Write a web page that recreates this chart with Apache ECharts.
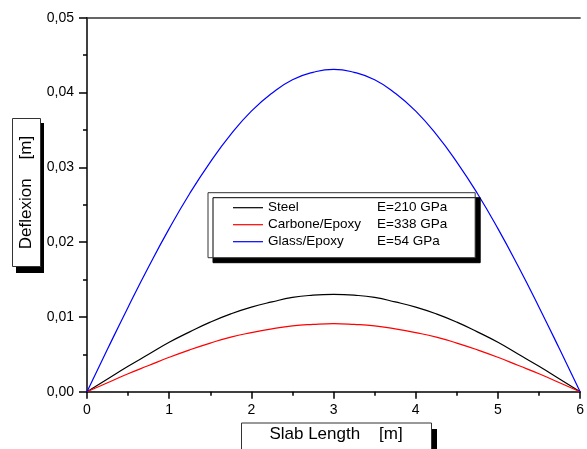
<!DOCTYPE html>
<html><head><meta charset="utf-8">
<script src="https://cdn.jsdelivr.net/npm/echarts@6/dist/echarts.min.js"></script>
<style>html,body{margin:0;padding:0;background:#fff}#c{width:587px;height:449px}</style>
</head><body><div id="c"></div>
<script>
var xs = [0,0.25,0.5,0.75,1,1.25,1.5,1.75,2,2.25,2.5,2.75,3,3.25,3.5,3.75,4,4.25,4.5,4.75,5,5.25,5.5,5.75,6];
var steel = [0,0.0017,0.0034,0.0050,0.0066,0.0080,0.0093,0.0104,0.0113,0.0120,0.0126,0.0129,0.0130,0.0129,0.0126,0.0120,0.0113,0.0104,0.0093,0.0080,0.0066,0.0050,0.0034,0.0017,0];
var carbone = [0,0.0012,0.0024,0.0035,0.0046,0.0056,0.0065,0.0073,0.0079,0.0084,0.0088,0.0090,0.0091,0.0090,0.0088,0.0084,0.0079,0.0073,0.0065,0.0056,0.0046,0.0035,0.0024,0.0012,0];
var glass = [0,0.0057,0.0113,0.0167,0.0218,0.0265,0.0307,0.0344,0.0375,0.0399,0.0417,0.0427,0.0431,0.0427,0.0417,0.0399,0.0375,0.0344,0.0307,0.0265,0.0218,0.0167,0.0113,0.0057,0];
var seriesNames = ['Steel','Carbone/Epoxy','Glass/Epoxy'];
var moduli = ['E=210 GPa','E=338 GPa','E=54 GPa'];
var colors = ['#000000','#ff0000','#0000ff'];
var xTitle = 'Slab Length    [m]';
var yTitle = 'Deflexion    [m]';

var FONT = 'Arial, "Liberation Sans", sans-serif';
function pairs(ys){ return xs.map(function(x,i){ return [x, ys[i]]; }); }
var all = [steel, carbone, glass];
var chart = echarts.init(document.getElementById('c'));
chart.setOption({
  animation:false,
  backgroundColor:'#fff',
  grid:{left:87, right:1, top:17.7, bottom:57.3, containLabel:false},
  xAxis:[{
    type:'value', min:0, max:6, interval:1,
    axisLine:{show:true, lineStyle:{color:'#000', width:1.5}},
    axisTick:{show:true, inside:false, length:7, lineStyle:{color:'#000', width:1.5}},
    minorTick:{show:true, splitNumber:2, length:4, lineStyle:{color:'#000', width:1.5}},
    splitLine:{show:false},
    axisLabel:{margin:11, color:'#000', fontSize:14, fontFamily:FONT}
  },{
    type:'value', position:'top', min:0, max:6,
    axisLine:{show:true, lineStyle:{color:'#333', width:1.5}},
    axisTick:{show:false}, axisLabel:{show:false}, splitLine:{show:false}
  }],
  yAxis:{
    type:'value', min:0, max:0.05, interval:0.01,
    axisLine:{show:true, lineStyle:{color:'#000', width:1.5}},
    axisTick:{show:true, inside:false, length:8, lineStyle:{color:'#000', width:1.5}},
    minorTick:{show:true, splitNumber:2, length:4, lineStyle:{color:'#000', width:1.5}},
    splitLine:{show:false},
    axisLabel:{margin:13, color:'#000', fontSize:14, fontFamily:FONT,
      formatter:function(v){ return v.toFixed(2).replace('.', ','); }}
  },
  legend:{
    left:208, top:192.7, orient:'vertical',
    icon:'path://M0,0L30,0L30,1L0,1Z', symbolKeepAspect:false,
    itemWidth:30, itemHeight:1.2, itemGap:3,
    padding:[8,28,9,25],
    backgroundColor:'#fff', borderColor:'#333', borderWidth:1,
    shadowColor:'#000', shadowOffsetX:5, shadowOffsetY:5, shadowBlur:0,
    data:seriesNames,
    formatter:function(name){ var i = seriesNames.indexOf(name); return '{a|'+name+'}{b|'+moduli[i]+'}'; },
    textStyle:{color:'#000', fontSize:13.5, fontFamily:FONT,
      rich:{a:{width:109, height:16, fontSize:13.5, fontFamily:FONT, color:'#000'}, b:{width:70, height:16, fontSize:13.5, fontFamily:FONT, color:'#000'}}}
  },
  series: seriesNames.map(function(n,i){
    return {name:n, type:'line', data:pairs(all[i]), smooth:true, symbol:'none',
      lineStyle:{color:colors[i], width:1.2}, itemStyle:{color:colors[i]}};
  }),
  graphic:[
    {type:'rect', shape:{x:16, y:123, width:28, height:150}, style:{fill:'#000'}, z:10},
    {type:'rect', shape:{x:12.5, y:118.5, width:28, height:148}, style:{fill:'#fff', stroke:'#333', lineWidth:1}, z:11},
    {type:'text', x:26.5, y:192.5, rotation:Math.PI/2, z:12,
      style:{text:yTitle, fill:'#000', font:'17px '+FONT, textAlign:'center', textVerticalAlign:'middle'}},
    {type:'rect', shape:{x:246, y:429, width:191, height:30}, style:{fill:'#000'}, z:10},
    {type:'rect', shape:{x:241.5, y:423, width:190, height:30}, style:{fill:'#fff', stroke:'#333', lineWidth:1}, z:11},
    {type:'text', x:336, y:434.5, z:12,
      style:{text:xTitle, fill:'#000', font:'17px '+FONT, textAlign:'center', textVerticalAlign:'middle'}}
  ]
});
</script></body></html>
